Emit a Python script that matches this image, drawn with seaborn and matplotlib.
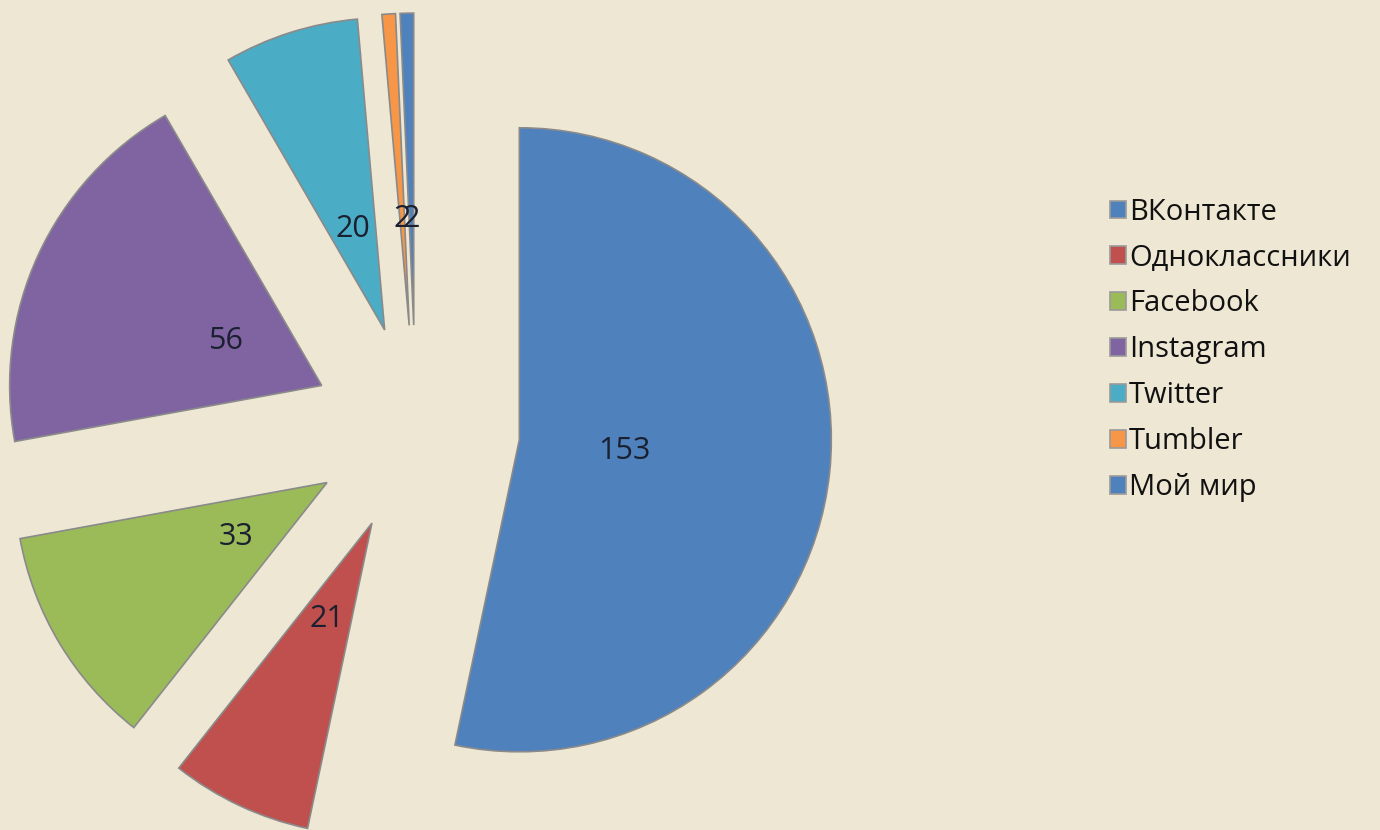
import matplotlib
matplotlib.use("Agg")
import matplotlib.pyplot as plt
import seaborn as sns

# data
networks = ["ВКонтакте", "Одноклассники", "Facebook", "Instagram",
            "Twitter", "Tumbler", "Мой мир"]
users = [153, 21, 33, 56, 20, 2, 2]
slice_colors = ["#4F81BD", "#C0504D", "#9BBB59", "#8064A2",
                "#4BACC6", "#F79646", "#4F81BD"]

sns.set_style("white")
plt.rcParams['font.family'] = ['Open Sans', 'DejaVu Sans']

bg = "#EEE7D4"
fig = plt.figure(figsize=(13.8, 8.3), dpi=100, facecolor=bg)
ax = fig.add_axes([0, 0, 1, 1])
ax.set_facecolor(bg)

pal = sns.color_palette(slice_colors)
wedges, texts, autotexts = ax.pie(
    users,
    colors=pal,
    startangle=90,
    counterclock=False,
    explode=[0.333] * len(users),
    radius=1.0,
    autopct=lambda p: "%d" % round(p * sum(users) / 100.0),
    pctdistance=0.34,
    wedgeprops=dict(edgecolor="#8a8a8a", linewidth=1.2),
    textprops=dict(fontsize=22, color="#1b2030"),
)

# pie centre sits at pixel (416, 429), radius 312 px, partly cut off by the frame
px = 312.0
ax.set_xlim(-416 / px, (1380 - 416) / px)
ax.set_ylim(-(830 - 429) / px, 429 / px)
ax.set_aspect("equal", adjustable="box")
ax.axis("off")

leg = fig.legend(
    wedges, networks,
    loc="upper left",
    bbox_to_anchor=(1098 / 1380, 1 - 186 / 830),
    frameon=False,
    fontsize=21,
    handlelength=0.55,
    handleheight=0.55,
    handletextpad=0.12,
    labelspacing=0.58,
    borderaxespad=0,
)
for t in leg.get_texts():
    t.set_color("#111111")
for h in leg.legend_handles:
    h.set_edgecolor("#9a9a9a")

fig.savefig("out.png", dpi=100, facecolor=bg)
